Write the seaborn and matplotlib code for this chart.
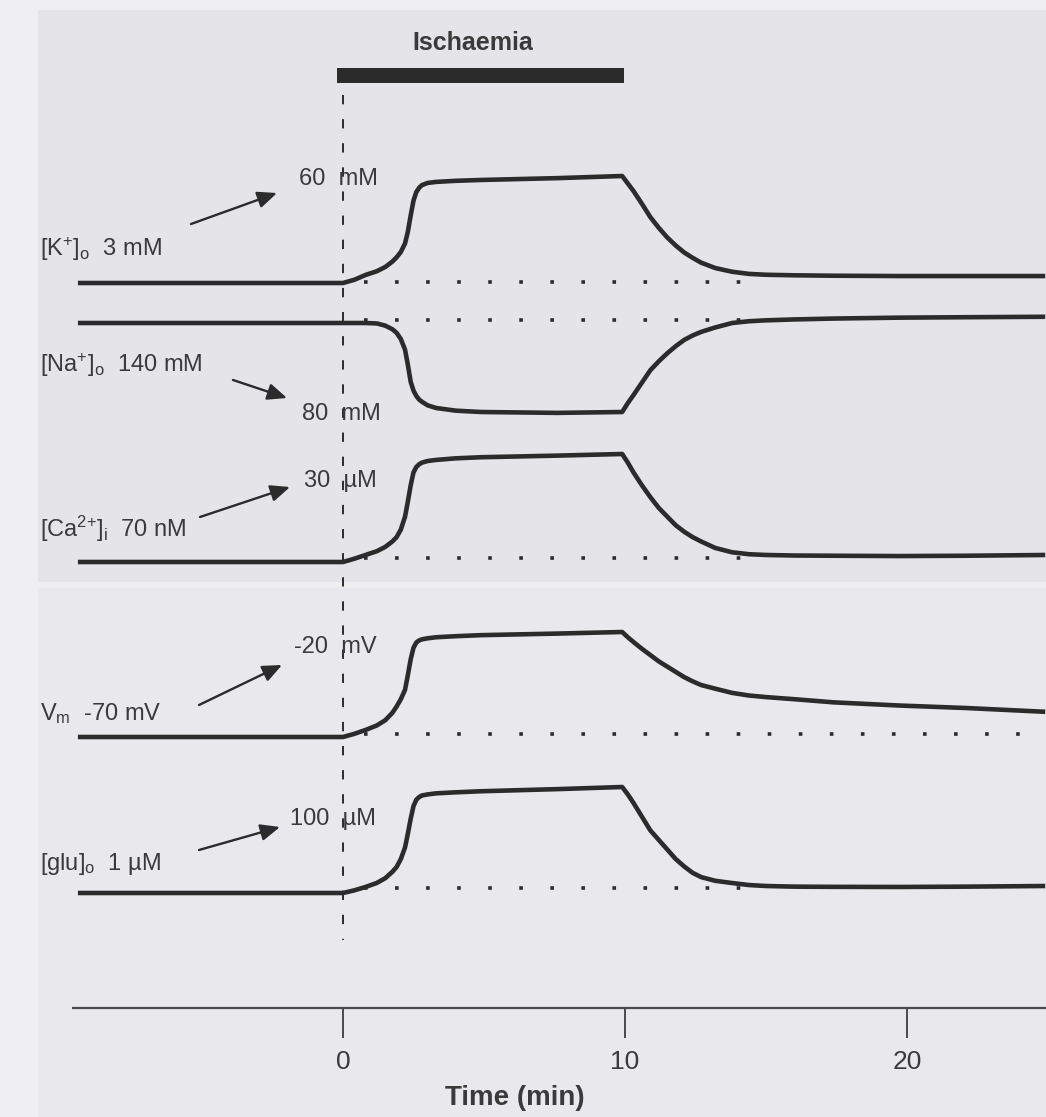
import numpy as np
import pandas as pd
import matplotlib
matplotlib.use("Agg")
import matplotlib.pyplot as plt
import seaborn as sns

# ---------------- data ----------------
time_min = [-9.4, 0.0, 0.4, 0.8, 1.2, 1.5, 1.75, 1.9, 2.05, 2.2, 2.3, 2.4, 2.5, 2.6,
            2.7, 2.8, 3.0, 3.3, 4.0, 4.9, 7.6, 9.9, 10.1, 10.3, 10.6, 10.9, 11.2,
            11.5, 11.8, 12.1, 12.4, 12.7, 13.2, 13.8, 14.4, 15.0, 16.0, 17.4, 19.7,
            22.1, 24.9]

# fraction of the ischaemic response (0 = resting level, 1 = ischaemic level)
k_out = [0, 0, 0.03, 0.075, 0.11, 0.15, 0.20, 0.24, 0.29, 0.37, 0.48, 0.63, 0.77, 0.85,
         0.89, 0.915, 0.935, 0.945, 0.955, 0.963, 0.98, 1.0, 0.93, 0.86, 0.74, 0.615, 0.515,
         0.425, 0.35, 0.285, 0.235, 0.19, 0.14, 0.105, 0.085, 0.077, 0.072, 0.068, 0.065,
         0.065, 0.065]
na_out = [0, 0, 0, 0, 0.005, 0.03, 0.07, 0.11, 0.18, 0.30, 0.47, 0.66, 0.76, 0.82,
          0.86, 0.885, 0.925, 0.955, 0.985, 1.0, 1.01, 1.0, 0.90, 0.81, 0.67, 0.53, 0.43,
          0.34, 0.26, 0.19, 0.14, 0.10, 0.05, 0.0, -0.02, -0.03, -0.04, -0.05, -0.06,
          -0.065, -0.07]
ca_in = [0, 0, 0.03, 0.065, 0.10, 0.14, 0.19, 0.23, 0.30, 0.42, 0.56, 0.71, 0.83, 0.88,
         0.905, 0.92, 0.935, 0.945, 0.96, 0.97, 0.985, 1.0, 0.92, 0.83, 0.71, 0.60, 0.50,
         0.42, 0.34, 0.28, 0.23, 0.19, 0.13, 0.09, 0.072, 0.065, 0.06, 0.058, 0.055,
         0.058, 0.065]
vm = [0, 0, 0.03, 0.067, 0.11, 0.16, 0.23, 0.29, 0.36, 0.45, 0.59, 0.74, 0.85, 0.90,
      0.92, 0.93, 0.94, 0.95, 0.96, 0.97, 0.985, 1.0, 0.95, 0.905, 0.84, 0.78, 0.72,
      0.67, 0.62, 0.57, 0.53, 0.495, 0.46, 0.42, 0.395, 0.38, 0.36, 0.33, 0.30,
      0.276, 0.24]
glu_out = [0, 0, 0.025, 0.057, 0.095, 0.14, 0.20, 0.245, 0.32, 0.43, 0.56, 0.70, 0.82,
           0.88, 0.905, 0.92, 0.93, 0.94, 0.95, 0.96, 0.98, 1.0, 0.93, 0.85, 0.72, 0.59,
           0.50, 0.41, 0.32, 0.25, 0.19, 0.15, 0.115, 0.094, 0.075, 0.066, 0.06, 0.058,
           0.057, 0.06, 0.066]

trace_names = ["K", "Na", "Ca", "Vm", "glu"]
rest_labels = [r"[K$^{+}$]$_{\mathrm{o}}$  3 mM",
               r"[Na$^{+}$]$_{\mathrm{o}}$  140 mM",
               r"[Ca$^{2{+}}$]$_{\mathrm{i}}$  70 nM",
               r"V$_{\mathrm{m}}$  -70 mV",
               r"[glu]$_{\mathrm{o}}$  1 µM"]
peak_labels = ["60  mM", "80  mM", "30  µM", "-20  mV", "100  µM"]
ischaemia_period = [-0.2, 9.95]
x_ticks = [0, 10, 20]
x_ticklabels = ["0", "10", "20"]
x_label = "Time (min)"
bar_label = "Ischaemia"

# ---------------- layout (pixel rows of the 1046x1117 canvas) ----------------
W, H = 1046, 1117
X0, PX_PER_MIN = 343.0, 28.2


def t(px):
    return (px - X0) / PX_PER_MIN


base_row = [283, 323, 562, 737, 893]
amp_px = [107, -89, 108, 105, 106]
dot_row = [282, 320, 558, 734, 888]
dot_end = [15.0, 15.0, 15.0, 24.9, 14.7]
rest_pos = [(40, 256), (40, 372), (40, 537), (40, 720), (40, 870)]
peak_pos = [(299, 185), (302, 420), (304, 487), (294, 653), (290, 825)]
arrows = [((191, 224), (277, 193)), ((233, 380), (287, 398)), ((200, 517), (290, 487)),
          ((199, 705), (282, 665)), ((199, 850), (280, 827))]

series = [k_out, na_out, ca_in, vm, glu_out]
rows = []
for name, vals, b, a in zip(trace_names, series, base_row, amp_px):
    for tt, v in zip(time_min, vals):
        rows.append({"time": tt, "trace": name, "row": b - a * v})
df = pd.DataFrame(rows)

# ---------------- style ----------------
sns.set_theme(style="white")
plt.rcParams["font.family"] = ["Liberation Sans", "DejaVu Sans"]
plt.rcParams["mathtext.fontset"] = "custom"
plt.rcParams["mathtext.rm"] = "Liberation Sans"
plt.rcParams["mathtext.it"] = "Liberation Sans:italic"
plt.rcParams["mathtext.bf"] = "Liberation Sans:bold"

INK = "#2b2b2b"
TXT = "#3a3a3a"

fig = plt.figure(figsize=(W / 100, H / 100), dpi=100)
fig.patch.set_facecolor("#efeff2")
ax = fig.add_axes([0, 0, 1, 1])
ax.set_facecolor("#efeff2")

# scanned-page panels
ax.fill_between([t(38), t(W)], 10, 582, color="#e4e4e9", lw=0, zorder=0)
ax.fill_between([t(38), t(W)], 588, H, color="#e9e9ed", lw=0, zorder=0)

# traces
sns.lineplot(data=df, x="time", y="row", units="trace", estimator=None, sort=False,
             color=INK, lw=3.3, ax=ax, legend=False, zorder=4,
             solid_joinstyle="round", solid_capstyle="butt")

# dotted resting levels
for r, e in zip(dot_row, dot_end):
    ax.hlines(r, 0.75, e, colors=INK, lw=2.6, linestyles=(0, (1, 7.6)), zorder=3)

# dashed onset line
ax.vlines(0, 95, 940, colors=INK, lw=1.4, linestyles=(0, (4.8, 7.6)), zorder=2)

# ischaemia bar
ax.fill_between(ischaemia_period, 68, 83, color=INK, lw=0, zorder=5)
ax.text(t(473), 43, bar_label, ha="center", va="center", fontsize=18,
        fontweight="bold", color=TXT)

# labels and arrows
for lab, (px, py) in zip(rest_labels, rest_pos):
    ax.text(t(px), py, lab, ha="left", va="baseline", fontsize=17, color=TXT)
for lab, (px, py) in zip(peak_labels, peak_pos):
    ax.text(t(px), py, lab, ha="left", va="baseline", fontsize=17, color=TXT)
for (tail, head) in arrows:
    ax.annotate("", xy=(t(head[0]), head[1]), xytext=(t(tail[0]), tail[1]),
                arrowprops=dict(arrowstyle="-|>,head_length=0.65,head_width=0.28",
                                mutation_scale=18, lw=1.7, color=INK,
                                shrinkA=0, shrinkB=0), zorder=6)

# time axis
ax.hlines(1008, t(72), t(W), colors="#4a4a4a", lw=1.6, zorder=3)
ax.vlines(x_ticks, 1008, 1038, colors="#4a4a4a", lw=1.4, zorder=3)
for xt, xl in zip(x_ticks, x_ticklabels):
    ax.text(xt, 1062, xl, ha="center", va="center", fontsize=19, color=TXT)
ax.text(t(515), 1098, x_label, ha="center", va="center", fontsize=20,
        fontweight="bold", color=TXT)

ax.set_xlim(t(0), t(W))
ax.set_ylim(H, 0)
ax.axis("off")

fig.savefig("out.png", dpi=100, facecolor=fig.get_facecolor())
